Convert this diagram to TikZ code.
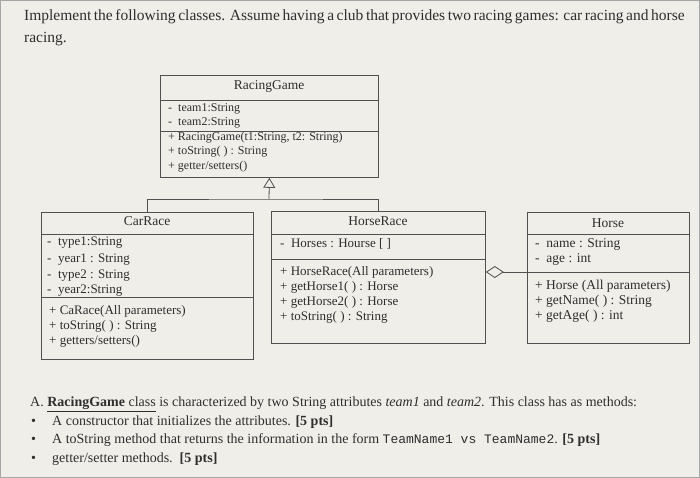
\documentclass[tikz,border=0pt]{standalone}
\usepackage{fontspec}
\setmainfont{Liberation Serif}
\setmonofont{Liberation Mono}
\usetikzlibrary{arrows.meta}
\definecolor{bg}{HTML}{EFEEE9}
\definecolor{ink}{HTML}{2E2E2E}
\definecolor{edge}{HTML}{505050}
\begin{document}
\begin{tikzpicture}[x=1pt,y=-1pt,
  umlbox/.style={draw=edge, line width=0.8pt, inner sep=0pt, anchor=north west},
  sepline/.style={draw=edge, line width=0.8pt},
  ttl/.style={inner sep=0pt, anchor=mid, text=ink, font=\fontsize{13.5}{15}\selectfont},
  rgline/.style={inner sep=0pt, anchor=mid west, text=ink, font=\fontsize{12}{14}\selectfont},
  cline/.style={inner sep=0pt, anchor=mid west, text=ink, font=\fontsize{13}{15}\selectfont},
  hline/.style={cline, font=\fontsize{13.5}{15}\selectfont},
  para/.style={inner sep=0pt, anchor=mid west, text=ink, font=\fontsize{14}{16}\selectfont},
  intro/.style={inner sep=0pt, anchor=mid west, text=ink, font=\fontsize{15.5}{18}\selectfont},
  conn/.style={draw=edge, line width=0.8pt}
]
\fill[bg] (0,0) rectangle (700,478);
\draw[gray!70, line width=1pt] (0.5,0.5) rectangle (699.5,477.5);
\useasboundingbox (0,0) rectangle (700,478);

% intro text
\node[intro] (intro1) at (24,18) {\makebox[648pt][s]{Implement the following classes. Assume having a club that provides two racing games: car racing and horse}};
\node[intro] (intro2) at (24,40) {racing.};

% RacingGame
\node[umlbox, minimum width=218pt, minimum height=102pt] (rg) at (160,75) {};
\draw[sepline] (160,100) -- (378,100);
\draw[sepline] (160,131) -- (378,131);
\node[ttl] (rgt) at (269,87) {RacingGame};
\node[rgline] (rga1) at (168,109) {-~~team1:String};
\node[rgline] (rga2) at (168,123) {-~~team2:String};
\node[rgline] (rgm1) at (168,138) {+ RacingGame(t1:String, t2: String)};
\node[rgline] (rgm2) at (168,152) {+ toString( ) : String};
\node[rgline] (rgm3) at (168,167) {+ getter/setters()};

% CarRace
\node[umlbox, minimum width=212pt, minimum height=147pt] (car) at (41,212) {};
\draw[sepline] (41,234) -- (253,234);
\draw[sepline] (41,297) -- (253,297);
\node[ttl] (cart) at (147,223) {CarRace};
\node[cline] (cara1) at (47,243) {-~ type1:String};
\node[cline] (cara2) at (47,260) {-~ year1 : String};
\node[cline] (cara3) at (47,276) {-~ type2 : String};
\node[cline] (cara4) at (47,291) {-~ year2:String};
\node[cline] (carm1) at (49,312) {+ CaRace(All parameters)};
\node[cline] (carm2) at (49,327) {+ toString( ) : String};
\node[cline] (carm3) at (49,342) {+ getters/setters()};

% HorseRace
\node[umlbox, minimum width=214pt, minimum height=132pt] (hr) at (271,211) {};
\draw[sepline] (271,234) -- (485,234);
\draw[sepline] (271,259) -- (485,259);
\node[ttl] (hrt) at (378,223) {HorseRace};
\node[cline] (hra1) at (280,245) {-~ Horses : Hourse [ ]};
\node[cline] (hrm1) at (280,273) {+ HorseRace(All parameters)};
\node[cline] (hrm2) at (280,288) {+ getHorse1( ) : Horse};
\node[cline] (hrm3) at (280,303) {+ getHorse2( ) : Horse};
\node[cline] (hrm4) at (280,318) {+ toString( ) : String};

% Horse
\node[umlbox, minimum width=162pt, minimum height=131pt] (horse) at (527,212) {};
\draw[sepline] (527,234) -- (689,234);
\coordinate (hsep) at (527,272);
\draw[sepline] (hsep) -- (689,272);
\node[ttl] (horset) at (608,225) {Horse};
\node[hline] (ha1) at (535,245) {-~ name : String};
\node[hline] (ha2) at (535,260) {-~ age : int};
\node[hline] (hm1) at (535,287) {+ Horse (All parameters)};
\node[hline] (hm2) at (535,302) {+ getName( ) : String};
\node[hline] (hm3) at (535,317) {+ getAge( ) : int};

% connectors
\coordinate (jn) at (269,199);
\draw[conn] (car.north) |- (jn) -| (hr.north);
\draw[conn, -{Triangle[open, length=10pt, width=12pt, line width=0.8pt]}] (jn) -- (rg.south);
\draw[conn, {Diamond[open, length=18pt, width=12pt, line width=0.8pt]}-] (hsep -| hr.east) -- (hsep);

% bottom text
\node[para] (pa) at (30,404) {A. \underline{\textbf{RacingGame} class} is characterized by two String attributes \textit{team1} and \textit{team2}. This class has as methods:};
\node[para] (b1) at (31,423) {\textbullet};
\node[para] (b2) at (31,441) {\textbullet};
\node[para] (b3) at (31,460) {\textbullet};
\node[para] (t1) at (52,423) {A constructor that initializes the attributes. \textbf{[5 pts]}};
\node[para] (t2) at (52,441) {A toString method that returns the information in the form {\fontsize{13}{14}\selectfont\texttt{TeamName1 vs TeamName2}}. \textbf{[5 pts]}};
\node[para] (t3) at (52,460) {getter/setter methods.~~\textbf{[5 pts]}};
\end{tikzpicture}
\end{document}
